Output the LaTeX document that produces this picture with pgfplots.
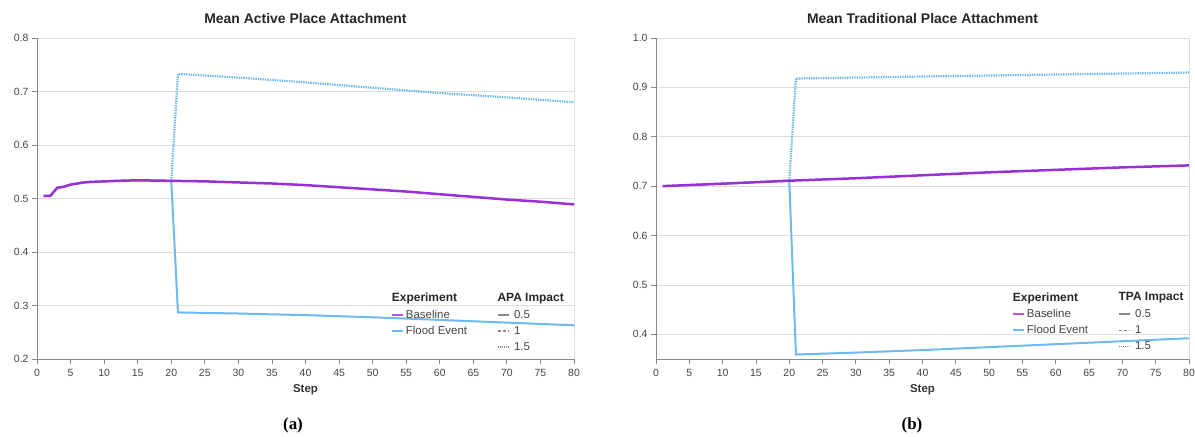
\documentclass[border=0pt]{standalone}
\usepackage{pgfplots}
\pgfplotsset{compat=1.18}
\usepackage{fontspec}
\setmainfont{Liberation Sans}
\newfontfamily\serifbf{Liberation Serif}
\definecolor{purp}{HTML}{9B2FD6}
\definecolor{fblue}{HTML}{6DB9F0}
\definecolor{lpurp}{HTML}{B656E0}
\definecolor{axgray}{HTML}{888888}
\definecolor{gridgray}{HTML}{DDDDDD}
\definecolor{ticktxt}{HTML}{444444}
\definecolor{legray}{HTML}{8A8A8A}

\pgfplotstableread{
x y
1 0.505
2 0.505
3 0.520
4 0.522
5 0.526
6 0.528
7 0.530
8 0.531
10 0.532
12 0.533
15 0.534
20 0.533
25 0.532
30 0.530
35 0.528
40 0.525
45 0.521
50 0.517
55 0.513
60 0.508
65 0.503
70 0.498
75 0.494
80 0.489
}\apabase

\pgfplotstableread{
x y
1 0.505
2 0.505
3 0.520
4 0.522
5 0.526
6 0.528
7 0.530
8 0.531
10 0.532
12 0.533
15 0.534
20 0.533
21 0.287
30 0.285
40 0.282
50 0.278
60 0.273
70 0.268
80 0.263
}\apafloodA

\pgfplotstableread{
x y
20 0.533
21 0.733
30 0.726
40 0.717
50 0.707
60 0.697
70 0.689
80 0.680
}\apafloodC

\pgfplotstableread{
x y
1 0.700
10 0.705
20 0.711
30 0.716
40 0.722
50 0.728
60 0.733
70 0.738
80 0.742
}\tpabase

\pgfplotstableread{
x y
1 0.700
10 0.705
20 0.711
21 0.359
30 0.363
40 0.368
50 0.374
60 0.380
70 0.386
80 0.392
}\tpafloodA

\pgfplotstableread{
x y
20 0.711
21 0.918
40 0.922
60 0.926
80 0.930
}\tpafloodC

\newcommand{\legtitle}[1]{\hspace*{-14bp}\textbf{\fontsize{12}{14}\selectfont\color{black!85}#1}}
\newcommand{\legnum}[1]{\hspace*{2.5bp}#1}

\pgfplotsset{
  mystyle/.style={
    scale only axis,
    xmin=0, xmax=80,
    xtick={0,5,...,80},
    axis x line*=bottom,
    axis y line*=left,
    axis line style={axgray, line width=0.8bp},
    tick style={axgray, line width=0.8bp},
    major tick length=5bp,
    tick align=outside,
    ymajorgrids,
    grid style={gridgray, line width=0.8bp},
    extra x ticks={80},
    extra x tick labels={},
    extra x tick style={grid=major, major tick length=0pt},
    tick label style={font=\fontsize{10.5}{12}\selectfont, text=ticktxt},
    xticklabel style={yshift=-1.5bp},
    yticklabel style={/pgf/number format/.cd, fixed, fixed zerofill, precision=1},
    /pgf/number format/assume math mode=true,
    title style={font=\bfseries\fontsize{14}{16}\selectfont, text=black!85, at={(axis description cs:0.5,1)}, anchor=south, inner sep=0pt, yshift=8bp},
    xlabel style={font=\bfseries\fontsize{11.5}{13}\selectfont, text=black!80, at={(axis description cs:0.5,0)}, anchor=center, yshift=-31bp},
    legend columns=2,
    legend cell align=left,
    legend style={draw=none, fill=none, inner sep=0pt, font=\fontsize{11.5}{13}\selectfont, text=ticktxt,
      /tikz/every even column/.append style={column sep=28bp}, row sep=2.5bp, anchor=north west},
    legend image code/.code={\draw[#1] (0bp,0bp) -- (11bp,0bp);},
  }
}

\begin{document}
\begin{tikzpicture}[x=1bp,y=1bp]
\useasboundingbox (0,0) rectangle (1195,437);

\begin{axis}[mystyle,
  at={(37bp,78bp)}, anchor=south west,
  width=537bp, height=321bp,
  ymin=0.2, ymax=0.8, ytick={0.2,0.3,...,0.8},
  title={Mean Active Place Attachment},
  xlabel={Step},
  legend style={at={(axis cs:52.7,0.327)}},
]
\addplot[fblue, line width=2bp, forget plot] table {\apafloodA};
\addplot[fblue, line width=2.2bp, dash pattern=on 1.4bp off 1bp, forget plot] table {\apafloodC};
\addplot[purp, line width=2.5bp, forget plot] table {\apabase};
\addlegendimage{empty legend}
\addlegendentry{\legtitle{Experiment}}
\addlegendimage{empty legend}
\addlegendentry{\legtitle{APA Impact}}
\addlegendimage{lpurp, line width=2bp}
\addlegendentry{Baseline}
\addlegendimage{legray, line width=1.5bp}
\addlegendentry{\legnum{0.5}}
\addlegendimage{fblue, line width=2bp}
\addlegendentry{Flood Event}
\addlegendimage{legray, line width=1.5bp, dash pattern=on 3bp off 2bp}
\addlegendentry{\legnum{1}}
\addlegendimage{empty legend}
\addlegendentry{}
\addlegendimage{legray, line width=1.5bp, dash pattern=on 1bp off 1bp}
\addlegendentry{\legnum{1.5}}
\end{axis}

\begin{axis}[mystyle,
  at={(656bp,78bp)}, anchor=south west,
  width=533bp, height=321bp,
  ymin=0.35, ymax=1.0, ytick={0.4,0.5,...,1.0},
  title={Mean Traditional Place Attachment},
  xlabel={Step},
  legend style={at={(axis cs:53.4,0.489)}},
]
\addplot[fblue, line width=2bp, forget plot] table {\tpafloodA};
\addplot[fblue, line width=2.2bp, dash pattern=on 1.4bp off 1bp, forget plot] table {\tpafloodC};
\addplot[purp, line width=2.5bp, forget plot] table {\tpabase};
\addlegendimage{empty legend}
\addlegendentry{\legtitle{Experiment}}
\addlegendimage{empty legend}
\addlegendentry{\legtitle{TPA Impact}}
\addlegendimage{lpurp, line width=2bp}
\addlegendentry{Baseline}
\addlegendimage{legray, line width=1.5bp}
\addlegendentry{\legnum{0.5}}
\addlegendimage{fblue, line width=2bp}
\addlegendentry{Flood Event}
\addlegendimage{legray, line width=1.5bp, dash pattern=on 3bp off 2bp}
\addlegendentry{\legnum{1}}
\addlegendimage{empty legend}
\addlegendentry{}
\addlegendimage{legray, line width=1.5bp, dash pattern=on 1bp off 1bp}
\addlegendentry{\legnum{1.5}}
\end{axis}

\node[font=\serifbf\bfseries\fontsize{17}{20}\selectfont] at (293,12) {(a)};
\node[font=\serifbf\bfseries\fontsize{17}{20}\selectfont] at (912,12) {(b)};
\end{tikzpicture}
\end{document}
